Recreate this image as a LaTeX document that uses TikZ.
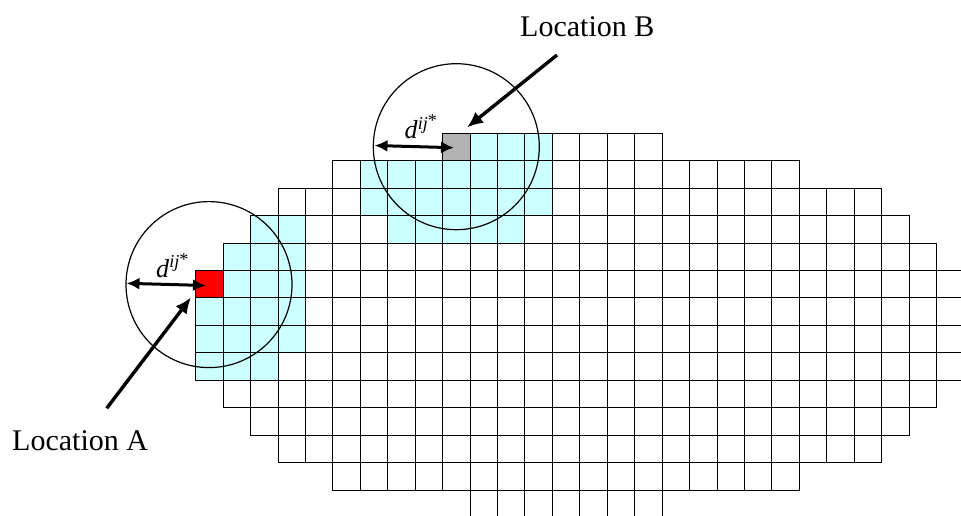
\documentclass[tikz,border=0pt]{standalone}
\usepackage{fontspec}
\setmainfont{Liberation Serif}
\usetikzlibrary{arrows.meta}
\definecolor{cellcyan}{HTML}{CCFFFF}
\definecolor{cellred}{HTML}{FF0000}
\definecolor{cellgray}{HTML}{B2B2B2}
\tikzset{
  gridline/.style={draw=black,line width=1pt,line cap=rect},
  cyanfill/.style={fill=cellcyan},
  ring/.style={draw=black,line width=1.2pt},
  bigarrow/.style={line width=3.4pt,-{Latex[length=16pt,width=14pt]}},
  dblarrow/.style={line width=3pt,{Latex[length=13pt,width=12pt]}-{Latex[length=13pt,width=12pt]}},
  loclabel/.style={font=\fontsize{30pt}{32pt}\selectfont,inner sep=0pt,anchor=base west},
  dlabel/.style={font=\fontsize{26pt}{28pt}\selectfont,inner sep=0pt,anchor=base west}
}
\begin{document}
\begin{tikzpicture}[x=1pt,y=-1pt]
\useasboundingbox (0,0) rectangle (961,516);
\clip (0,0) rectangle (961,516);
\def\gx{195.7}
\def\gy{133.3}
\def\gs{27.44}
% cyan cells
\foreach \r/\c in {0/10,0/11,0/12,
  1/6,1/7,1/8,1/9,1/10,1/11,1/12,
  2/6,2/7,2/8,2/9,2/10,2/11,2/12,
  3/2,3/3,3/7,3/8,3/9,3/10,3/11,
  4/1,4/2,4/3,
  5/1,5/2,5/3,
  6/0,6/1,6/2,6/3,
  7/0,7/1,7/2,7/3,
  8/0,8/1,8/2}{
  \fill[cyanfill] ({\gx+\c*\gs},{\gy+\r*\gs}) rectangle ++(\gs,\gs);
}
\fill[cellgray] ({\gx+9*\gs},{\gy}) rectangle ++(\gs,\gs);
\fill[cellred] ({\gx},{\gy+5*\gs}) rectangle ++(\gs,\gs);
% grid: horizontal boundaries (row boundary k, from column a to column b)
\foreach \k/\a/\b in {0/9/17,1/5/22,2/3/25,3/2/26,4/1/27,5/0/28,6/0/28,7/0/28,8/0/28,9/0/28,10/1/27,11/2/26,12/3/25,13/5/22,14/10/17}{
  \draw[gridline] ({\gx+\a*\gs},{\gy+\k*\gs}) -- ({\gx+\b*\gs},{\gy+\k*\gs});
}
% grid: vertical lines per row
\foreach \r/\a/\b in {0/9/17,1/5/22,2/3/25,3/2/26,4/1/27,5/0/28,6/0/28,7/0/28,8/0/28,9/1/27,10/2/26,11/3/25,12/5/22,13/10/17}{
  \foreach \c in {\a,...,\b}{
    \draw[gridline] ({\gx+\c*\gs},{\gy+\r*\gs}) -- ++(0,\gs);
  }
}
% circles
\coordinate (cA) at (209,284.6);
\coordinate (cB) at (456.3,146.7);
\draw[ring] (cA) circle[radius=83];
\draw[ring] (cB) circle[radius=83];
% distance arrows
\coordinate (dAl) at (126.5,283.3);
\coordinate (dAr) at (206,285.5);
\coordinate (dBl) at (374.5,145.5);
\coordinate (dBr) at (454,147.7);
\draw[dblarrow] (dAl) -- (dAr);
\draw[dblarrow] (dBl) -- (dBr);
\node[dlabel] (labA) at (156,277) {\textit{d}\textsuperscript{\textit{ij}\raisebox{0.35ex}{*}}};
\node[dlabel] (labB) at (404.5,138.3) {\textit{d}\textsuperscript{\textit{ij}\raisebox{0.35ex}{*}}};
% location labels and pointers
\node[loclabel] (locA) at (12,450) {Location A};
\node[loclabel] (locB) at (520,37) {Location B};
\coordinate (pAt) at (106.7,408.3);
\coordinate (pAh) at (191,297.5);
\coordinate (pBt) at (557,55);
\coordinate (pBh) at (467,127.5);
\draw[bigarrow] (pAt) -- (pAh);
\draw[bigarrow] (pBt) -- (pBh);
\end{tikzpicture}
\end{document}
